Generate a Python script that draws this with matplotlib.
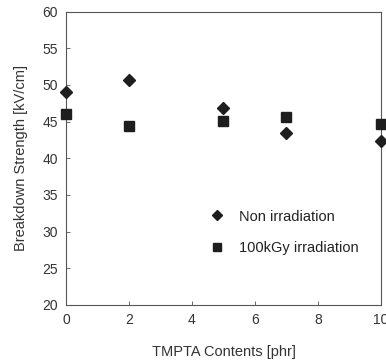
import numpy as np
import matplotlib.pyplot as plt

plt.rcParams['font.family'] = ['Liberation Sans', 'DejaVu Sans']

# TMPTA content [phr]
tmpta = [0, 2, 5, 7, 10]
# breakdown strength [kV/cm]
non_irr = [49.0, 50.7, 46.8, 43.4, 42.4]
irr_100kgy = [46.0, 44.4, 45.1, 45.6, 44.7]

fig = plt.figure(figsize=(3.86, 3.63), dpi=100)
ax = fig.add_axes([0.171, 0.160, 0.816, 0.808])

ax.plot(tmpta, non_irr, linestyle='none', marker='D', markersize=6.5,
        color='#1e1e1e', label='Non irradiation', clip_on=False, zorder=3)
ax.plot(tmpta, irr_100kgy, linestyle='none', marker='s', markersize=7.5,
        color='#1e1e1e', label='100kGy irradiation', clip_on=False, zorder=3)

ax.set_xlim(0, 10)
ax.set_ylim(20, 60)
ax.set_xticks([0, 2, 4, 6, 8, 10])
ax.set_yticks(np.arange(20, 61, 5))
ax.tick_params(direction='in', length=3, width=0.6, colors='#555555',
               labelcolor='#333333', labelsize=10, pad=6)
for s in ax.spines.values():
    s.set_linewidth(0.8)
    s.set_color('#555555')
ax.set_xlabel('TMPTA Contents [phr]', fontsize=10.5, color='#333333', labelpad=13)
ax.set_ylabel('Breakdown Strength [kV/cm]', fontsize=10.5, color='#333333', labelpad=10)

lgd = ax.legend(loc='upper left', bbox_to_anchor=(0.41, 0.37), frameon=False,
                markerscale=0.8, handlelength=1.2, handletextpad=0.9,
                labelspacing=1.2, fontsize=10.5, numpoints=1)
for t in lgd.get_texts():
    t.set_color('#222222')

fig.savefig('out.png', dpi=100)
